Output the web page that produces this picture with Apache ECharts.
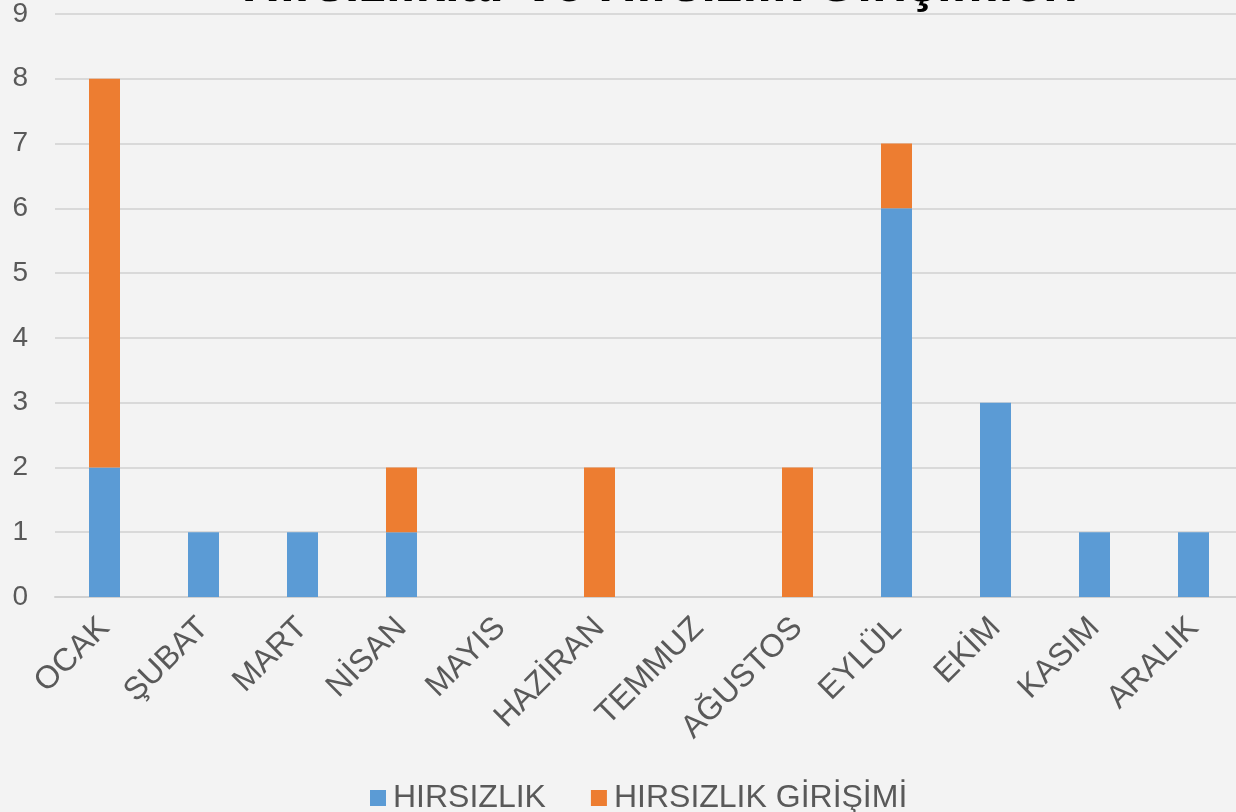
<!DOCTYPE html>
<html>
<head>
<meta charset="utf-8">
<script src="https://cdn.jsdelivr.net/npm/echarts@6/dist/echarts.min.js"></script>
<style>
html, body { margin: 0; padding: 0; background: #f3f3f3; }
#chart { width: 1236px; height: 812px; }
</style>
</head>
<body>
<div id="chart"></div>
<script>
// aylar
const months = ['OCAK', 'ŞUBAT', 'MART', 'NİSAN', 'MAYIS', 'HAZİRAN', 'TEMMUZ', 'AĞUSTOS', 'EYLÜL', 'EKİM', 'KASIM', 'ARALIK']
const theft = [2, 1, 1, 1, 0, 0, 0, 0, 6, 3, 1, 1]
const attempt = [6, 0, 0, 1, 0, 2, 0, 2, 1, 0, 0, 0]
const seriesNames = ['HIRSIZLIK', 'HIRSIZLIK GİRİŞİMİ']

const chart = echarts.init(document.getElementById('chart'))
const option = {
    backgroundColor: '#f3f3f3',
    animation: false,
    textStyle: { fontFamily: 'Liberation Sans, Arial, sans-serif' },
    title: {
        text: 'Hırsızlıklar ve Hırsızlık Girişimleri',
        left: 655,
        textAlign: 'center',
        top: -45,
        textStyle: { fontSize: 53, fontWeight: 'bold', color: '#000' }
    },
    legend: {
        data: seriesNames,
        bottom: -7,
        left: 365,
        itemWidth: 16,
        itemHeight: 16,
        itemGap: 45,
        icon: 'rect',
        textStyle: { fontSize: 32, color: '#595959', padding: [0, 0, 0, 2] }
    },
    grid: {
        left: 55,
        right: -7,
        top: 14,
        bottom: 215,
        outerBoundsMode: 'none',
        containLabel: false
    },
    xAxis: {
        type: 'category',
        data: months,
        axisLine: { lineStyle: { color: '#d0d0d0', width: 2 } },
        axisTick: { show: false },
        axisLabel: {
            rotate: 45,
            interval: 0,
            fontSize: 32,
            color: '#595959',
            margin: 26
        }
    },
    yAxis: {
        type: 'value',
        min: 0,
        max: 9,
        interval: 1,
        axisLine: { show: false },
        axisTick: { show: false },
        splitLine: { lineStyle: { color: '#d9d9d9', width: 2 } },
        axisLabel: { fontSize: 28, color: '#595959', margin: 27 }
    },
    series: [{
        name: seriesNames[0],
        type: 'bar',
        stack: 'a',
        barWidth: 31,
        itemStyle: { color: '#5b9bd5' },
        data: theft
    }, {
        name: seriesNames[1],
        type: 'bar',
        stack: 'a',
        barWidth: 31,
        itemStyle: { color: '#ed7d31' },
        data: attempt
    }]
}
chart.setOption(option)
</script>
</body>
</html>
